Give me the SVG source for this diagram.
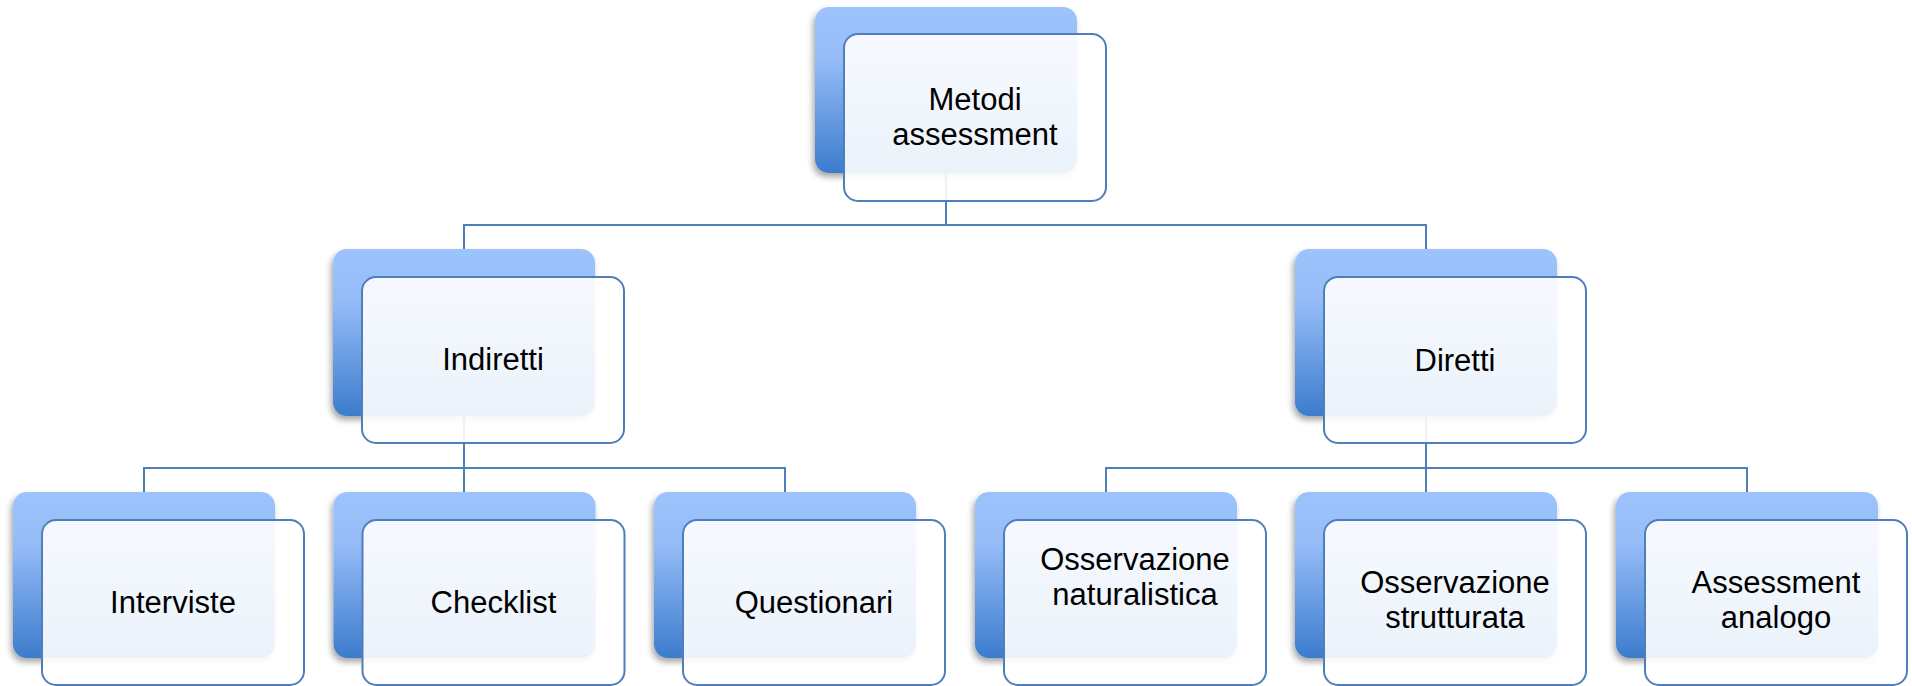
<svg xmlns="http://www.w3.org/2000/svg" width="1912" height="686" viewBox="0 0 1912 686">
<defs>
<linearGradient id="bg" x1="0" y1="0" x2="0" y2="1">
<stop offset="0" stop-color="#9dc3fd"/>
<stop offset="0.3" stop-color="#97bdf8"/>
<stop offset="1" stop-color="#3c7ccd"/>
</linearGradient>
<filter id="sh" x="-10%" y="-10%" width="120%" height="125%">
<feDropShadow dx="-2" dy="4" stdDeviation="3" flood-color="#000" flood-opacity="0.35"/>
</filter>
</defs>
<style>
.back{fill:url(#bg);filter:url(#sh);}
.front{fill:#fff;fill-opacity:0.9;stroke:#4f7fba;stroke-width:2;}
.conn{fill:none;stroke:#4f7fba;stroke-width:2;}
text{font-family:"Liberation Sans",Arial,sans-serif;font-size:31px;fill:#000;text-anchor:middle;}
</style>
<rect width="1912" height="686" fill="#fff"/>
<g id="connectors">
<path class="conn" d="M946,173 V225 M464,249 V225 H1426 V249"/>
<path class="conn" d="M464,416 V492 M144,492 V468 H785 V492"/>
<path class="conn" d="M1426,416 V492 M1106,492 V468 H1747 V492"/>
</g>
<g id="n-metodi">
<rect class="back" x="815" y="7" width="262" height="166" rx="14"/>
<rect class="front" x="844" y="34" width="262" height="167" rx="14"/>
<text x="975" y="110">Metodi</text>
<text x="975" y="145">assessment</text>
</g>
<g id="n-indiretti">
<rect class="back" x="333" y="249" width="262" height="167" rx="14"/>
<rect class="front" x="362" y="277" width="262" height="166" rx="14"/>
<text x="493" y="370">Indiretti</text>
</g>
<g id="n-diretti">
<rect class="back" x="1295" y="249" width="262" height="167" rx="14"/>
<rect class="front" x="1324" y="277" width="262" height="166" rx="14"/>
<text x="1455" y="371">Diretti</text>
</g>
<g id="n-interviste">
<rect class="back" x="13" y="492" width="262" height="166" rx="14"/>
<rect class="front" x="42" y="520" width="262" height="165" rx="14"/>
<text x="173" y="613">Interviste</text>
</g>
<g id="n-checklist">
<rect class="back" x="333.5" y="492" width="262" height="166" rx="14"/>
<rect class="front" x="362.5" y="520" width="262" height="165" rx="14"/>
<text x="493.5" y="613">Checklist</text>
</g>
<g id="n-questionari">
<rect class="back" x="654" y="492" width="262" height="166" rx="14"/>
<rect class="front" x="683" y="520" width="262" height="165" rx="14"/>
<text x="814" y="613">Questionari</text>
</g>
<g id="n-naturalistica">
<rect class="back" x="975" y="492" width="262" height="166" rx="14"/>
<rect class="front" x="1004" y="520" width="262" height="165" rx="14"/>
<text x="1135" y="570">Osservazione</text>
<text x="1135" y="605">naturalistica</text>
</g>
<g id="n-strutturata">
<rect class="back" x="1295" y="492" width="262" height="166" rx="14"/>
<rect class="front" x="1324" y="520" width="262" height="165" rx="14"/>
<text x="1455" y="593">Osservazione</text>
<text x="1455" y="628">strutturata</text>
</g>
<g id="n-analogo">
<rect class="back" x="1616" y="492" width="262" height="166" rx="14"/>
<rect class="front" x="1645" y="520" width="262" height="165" rx="14"/>
<text x="1776" y="593">Assessment</text>
<text x="1776" y="628">analogo</text>
</g>
</svg>
